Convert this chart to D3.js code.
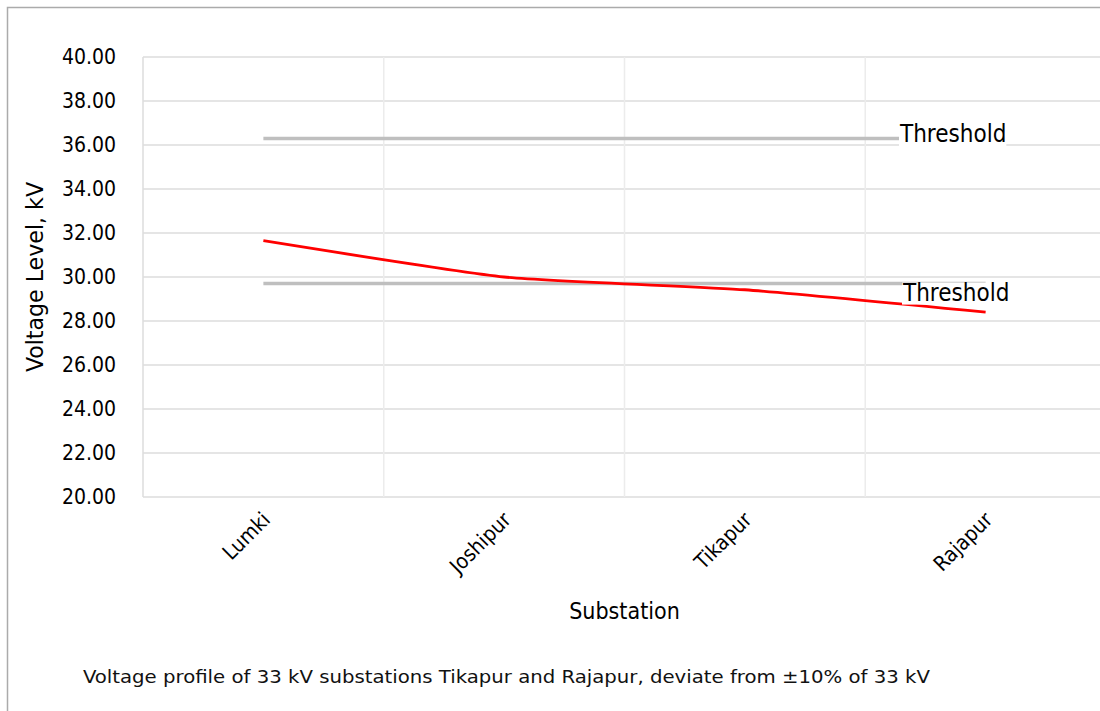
<!DOCTYPE html>
<html><head><meta charset="utf-8">
<script src="https://cdn.jsdelivr.net/npm/d3@7"></script>
<style>
html,body{margin:0;padding:0;background:#fff;}
svg{display:block;}
</style></head>
<body>
<script>
const categories = ["Lumki", "Joshipur", "Tikapur", "Rajapur"];
const voltage = [31.65, 30.0, 29.42, 28.4];
const upperThreshold = [36.3, 36.3, 36.3, 36.3];
const lowerThreshold = [29.7, 29.7, 29.7, 29.7];
const yTicks = [20, 22, 24, 26, 28, 30, 32, 34, 36, 38, 40];
const thresholdLabel = "Threshold";
const xTitle = "Substation";
const yTitle = "Voltage Level, kV";
const caption = "Voltage profile of 33 kV substations Tikapur and Rajapur, deviate from ±10% of 33 kV";

const W = 1100, H = 711;
const font = "'DejaVu Sans Condensed', 'DejaVu Sans', sans-serif";
const svg = d3.select("body").append("svg").attr("width", W).attr("height", H);

// outer frame
svg.append("rect").attr("x", 7.5).attr("y", 7.5).attr("width", W + 10).attr("height", H + 10)
  .attr("fill", "none").attr("stroke", "#ababab").attr("stroke-width", 1.5);

const plot = {left: 143, right: 1106, top: 57, bottom: 497};
const x = d3.scaleBand().domain(categories).range([plot.left, plot.right]).padding(0);
const y = d3.scaleLinear().domain([20, 40]).range([plot.bottom, plot.top]);
const cx = d => x(d) + x.bandwidth() / 2;

// horizontal gridlines
svg.append("g").selectAll("line").data(yTicks).join("line")
  .attr("x1", plot.left).attr("x2", plot.right)
  .attr("y1", d => y(d)).attr("y2", d => y(d))
  .attr("stroke", "#dcdcdc").attr("stroke-width", 1.5);
// vertical gridlines
svg.append("g").selectAll("line").data(categories.slice(1)).join("line")
  .attr("x1", d => x(d)).attr("x2", d => x(d))
  .attr("y1", plot.top).attr("y2", plot.bottom)
  .attr("stroke", "#ececec").attr("stroke-width", 1.5);
svg.append("line").attr("x1", plot.left).attr("x2", plot.left)
  .attr("y1", plot.top).attr("y2", plot.bottom)
  .attr("stroke", "#dcdcdc").attr("stroke-width", 1.5);

// y axis
const yAxis = d3.axisLeft(y).tickValues(yTicks).tickFormat(d3.format(".2f")).tickSize(0).tickPadding(27);
const gy = svg.append("g").attr("transform", `translate(${plot.left},0)`).call(yAxis);
gy.select(".domain").remove();
gy.selectAll("text").attr("font-family", font).attr("font-size", 21).attr("fill", "#000");

// x axis
const xAxis = d3.axisBottom(x).tickSize(0).tickPadding(0);
const gx = svg.append("g").attr("transform", `translate(0,${plot.bottom})`).call(xAxis);
gx.select(".domain").remove();
gx.selectAll("text")
  .attr("font-family", font).attr("font-size", 21).attr("fill", "#000")
  .attr("text-anchor", "end").attr("dy", null).attr("y", 0)
  .attr("transform", "translate(8,24) rotate(-45)");

// series
const line = d3.line().x((d, i) => cx(categories[i])).y(d => y(d));
const smooth = d3.line().x((d, i) => cx(categories[i])).y(d => y(d)).curve(d3.curveCardinal.tension(0.5));

svg.append("path").datum(upperThreshold).attr("d", line)
  .attr("fill", "none").attr("stroke", "#bfbfbf").attr("stroke-width", 3.5);
svg.append("path").datum(lowerThreshold).attr("d", line)
  .attr("fill", "none").attr("stroke", "#bfbfbf").attr("stroke-width", 3.5);
svg.append("path").datum(voltage).attr("d", smooth)
  .attr("fill", "none").attr("stroke", "#ff0000").attr("stroke-width", 2.8);

// threshold labels
function addLabel(xp, yp) {
  const g = svg.append("g");
  const t = g.append("text").attr("x", xp).attr("y", yp)
    .attr("font-family", font).attr("font-size", 24).attr("fill", "#000").text(thresholdLabel);
  const b = t.node().getBBox();
  g.insert("rect", "text").attr("x", b.x).attr("y", b.y + 4).attr("width", b.width).attr("height", b.height - 6).attr("fill", "#fff");
}
addLabel(900, y(upperThreshold[3]) + 4);
addLabel(903, y(lowerThreshold[3]) + 17);

// titles
svg.append("text").attr("x", (plot.left + plot.right) / 2).attr("y", 619)
  .attr("text-anchor", "middle").attr("font-family", font).attr("font-size", 23).attr("fill", "#000").text(xTitle);
svg.append("text").attr("transform", `translate(43,${(plot.top + plot.bottom) / 2}) rotate(-90)`)
  .attr("text-anchor", "middle").attr("font-family", font).attr("font-size", 23)
  .attr("textLength", 190).attr("lengthAdjust", "spacingAndGlyphs").attr("fill", "#000").text(yTitle);
svg.append("text").attr("x", 83).attr("y", 683)
  .attr("font-family", font).attr("font-size", 18).attr("fill", "#111")
  .attr("textLength", 847).attr("lengthAdjust", "spacingAndGlyphs").text(caption);
</script>
</body></html>
